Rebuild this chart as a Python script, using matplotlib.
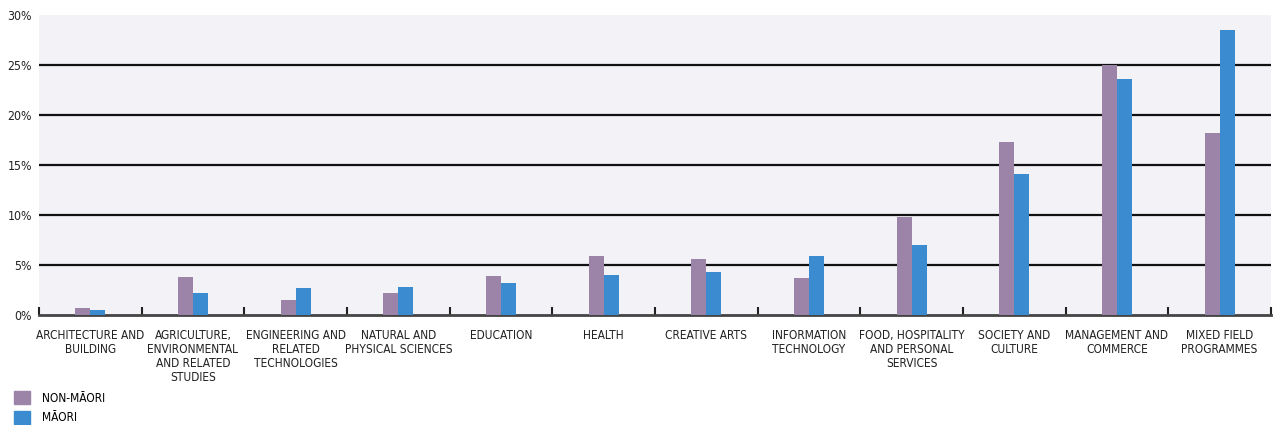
import matplotlib
matplotlib.use("Agg")
import matplotlib.pyplot as plt
from matplotlib.patches import Patch
import numpy as np

categories = ["ARCHITECTURE AND\nBUILDING", "AGRICULTURE,\nENVIRONMENTAL\nAND RELATED\nSTUDIES",
              "ENGINEERING AND\nRELATED\nTECHNOLOGIES", "NATURAL AND\nPHYSICAL SCIENCES",
              "EDUCATION", "HEALTH", "CREATIVE ARTS", "INFORMATION\nTECHNOLOGY",
              "FOOD, HOSPITALITY\nAND PERSONAL\nSERVICES", "SOCIETY AND\nCULTURE",
              "MANAGEMENT AND\nCOMMERCE", "MIXED FIELD\nPROGRAMMES"]
non_maori = [0.7, 3.8, 1.5, 2.2, 3.9, 5.9, 5.6, 3.7, 9.8, 17.3, 25.0, 18.2]
maori = [0.5, 2.2, 2.7, 2.8, 3.2, 4.0, 4.3, 5.9, 7.0, 14.1, 23.6, 28.5]
yticks = [0, 5, 10, 15, 20, 25, 30]
series_names = ["NON-MĀORI", "MĀORI"]

plt.rcParams['font.family'] = ['DejaVu Sans']
plt.rcParams['font.stretch'] = 'condensed'
c_non = "#9b84a8"
c_mao = "#3a8bd0"

fig = plt.figure(figsize=(12.74, 4.25), dpi=100)
ax = fig.add_axes([39/1274, 110/425, 1232/1274, 300/425])
ax.set_facecolor("#f2f2f7")

x = np.arange(len(categories))
w = 0.146
ax.bar(x - w/2, non_maori, w, color=c_non, zorder=3)
ax.bar(x + w/2, maori, w, color=c_mao, zorder=3)

ax.set_xlim(-0.5, len(categories) - 0.5)
ax.set_ylim(0, 30)
ax.set_yticks(yticks)
ax.set_yticklabels([f"{v}%" for v in yticks], fontsize=8.8, color="#222222")
for v in yticks[1:-1]:
    ax.axhline(v, color="#111111", lw=1.6, zorder=2)

ax.set_xticks(x)
ax.set_xticklabels(categories, fontsize=8.6, color="#222222", va="top", linespacing=1.1)
ax.tick_params(axis='x', length=0, pad=10)
ax.tick_params(axis='y', length=0, pad=5)
ax.set_xticks(np.arange(-0.5, len(categories)), minor=True)
ax.tick_params(axis='x', which='minor', direction='in', length=6, width=1.5, color="#222222")

for s in ["top", "right", "left"]:
    ax.spines[s].set_visible(False)
ax.spines["bottom"].set_color("#444444")
ax.spines["bottom"].set_linewidth(2)

handles = [Patch(color=c_non), Patch(color=c_mao)]
fig.legend(handles, series_names, loc="lower left", bbox_to_anchor=(3/1274, -10/425),
           frameon=False, fontsize=8.6, handlelength=1.35, handleheight=1.35,
           labelspacing=0.5, handletextpad=1.0)

fig.savefig("out.png", dpi=100)
